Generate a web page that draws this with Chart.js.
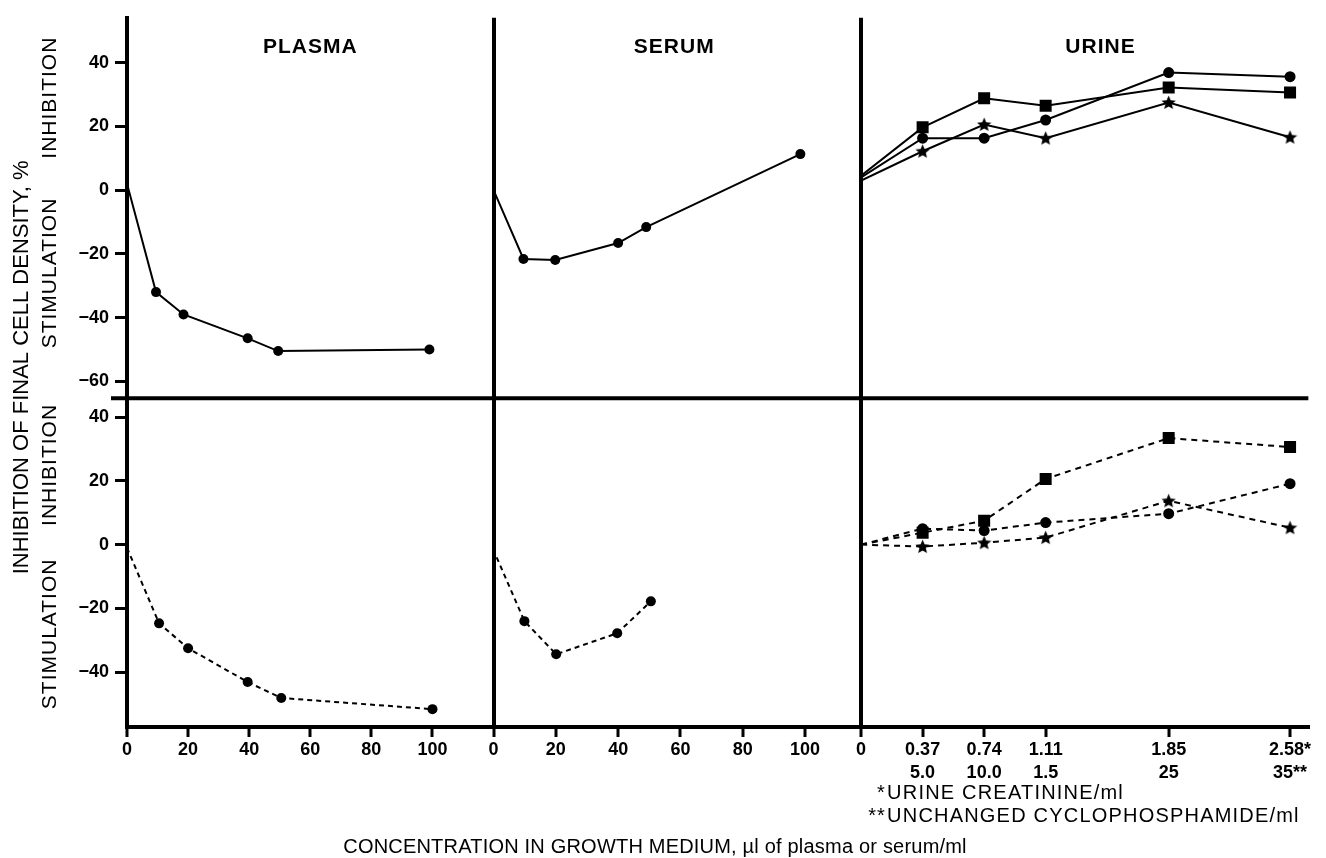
<!DOCTYPE html>
<html lang="en">
<head>
<meta charset="UTF-8">
<title>Inhibition of final cell density</title>
<script src="https://cdn.jsdelivr.net/npm/chart.js@4.4.0/dist/chart.umd.min.js"></script>
<style>
  html, body { margin: 0; padding: 0; background: #fff; }
  #wrap { position: relative; width: 1326px; height: 858px; }
</style>
</head>
<body>
<div id="wrap"><canvas id="cellChart" width="1326" height="858"></canvas></div>
<script>
// plasma / serum curves (x = ul per ml, y = % inhibition)
const plasmaTopX = [0, 9.5, 18.5, 39.5, 49.5, 99];
const plasmaTopY = [2, -32, -39, -46.5, -50.5, -50];
const serumTopX = [0, 9.6, 19.8, 40, 49, 98.5];
const serumTopY = [0, -21.6, -21.9, -16.6, -11.6, 11.3];
const plasmaBottomX = [0, 10.5, 20, 39.5, 50.5, 100];
const plasmaBottomY = [-1, -24.7, -32.5, -43.1, -48.1, -51.6];
const serumBottomX = [1, 9.9, 20.1, 39.7, 50.5];
const serumBottomY = [-4, -24, -34.4, -27.8, -17.8];

// urine curves, x = urine creatinine per ml
const urineX = [0, 0.37, 0.74, 1.11, 1.85, 2.58];
const urineCircleTop = [4, 16.3, 16.3, 22, 36.9, 35.6];
const urineSquareTop = [4.5, 19.7, 28.8, 26.5, 32.2, 30.6];
const urineStarTop = [3, 12.2, 20.6, 16.3, 27.5, 16.6];
const urineCircleBottom = [0, 5, 4.4, 6.9, 9.7, 19.1];
const urineSquareBottom = [0, 3.75, 7.5, 20.6, 33.4, 30.6];
const urineStarBottom = [0, -0.6, 0.6, 2.2, 13.75, 5.3];

// ticks and labels
const concTicks = [0, 20, 40, 60, 80, 100];
const urineTicks = [0, 0.37, 0.74, 1.11, 1.85, 2.58];
const creatinineLabels = ['0', '0.37', '0.74', '1.11', '1.85', '2.58*'];
const cyclophosphamideLabels = ['', '5.0', '10.0', '1.5', '25', '35**'];
const topYTicks = [-60, -40, -20, 0, 20, 40];
const bottomYTicks = [-40, -20, 0, 20, 40];

const panelTitles = ['PLASMA', 'SERUM', 'URINE'];
const yTitle = 'INHIBITION OF FINAL CELL DENSITY, %';
const sideLabels = ['INHIBITION', 'STIMULATION'];
const xTitle = 'CONCENTRATION IN GROWTH MEDIUM, \u00b5l of plasma or serum/ml';
const footnoteMarks = ['*', '**'];
const footnoteTexts = ['URINE CREATININE/ml', 'UNCHANGED CYCLOPHOSPHAMIDE/ml'];

const FONT = '"Liberation Sans", Arial, Helvetica, sans-serif';

// filled five point star marker
function makeStar(size) {
  const c = document.createElement('canvas');
  c.width = size; c.height = size;
  const g = c.getContext('2d');
  const r = size / 2, inner = r * 0.45;
  g.beginPath();
  for (let i = 0; i < 10; i++) {
    const rad = i % 2 ? inner : r;
    const a = -Math.PI / 2 + i * Math.PI / 5;
    g.lineTo(r + rad * Math.cos(a), r + 0.5 + rad * Math.sin(a));
  }
  g.closePath();
  g.fillStyle = '#000';
  g.fill();
  return c;
}
const starImg = makeStar(15);

function series(xs, ys, xAxis, yAxis, style, radius, dash) {
  return {
    data: xs.map((x, i) => ({x: x, y: ys[i]})),
    xAxisID: xAxis,
    yAxisID: yAxis,
    borderColor: '#000',
    borderWidth: 2,
    borderDash: dash || [],
    pointStyle: style,
    pointRadius: c => c.dataIndex === 0 ? 0 : radius,
    pointBackgroundColor: '#000',
    pointBorderWidth: 0,
    tension: 0,
    fill: false
  };
}

const solid = null;
const dashed = [5, 4];

const datasets = [
  series(plasmaTopX, plasmaTopY, 'xP', 'yT', 'circle', 5, solid),
  series(serumTopX, serumTopY, 'xS', 'yT', 'circle', 5, solid),
  series(urineX, urineCircleTop, 'xU', 'yT', 'circle', 5.5, solid),
  series(urineX, urineSquareTop, 'xU', 'yT', 'rect', 8.5, solid),
  series(urineX, urineStarTop, 'xU', 'yT', starImg, 7, solid),
  series(plasmaBottomX, plasmaBottomY, 'xP', 'yB', 'circle', 5, dashed),
  series(serumBottomX, serumBottomY, 'xS', 'yB', 'circle', 5, dashed),
  series(urineX, urineCircleBottom, 'xU', 'yB', 'circle', 5.5, [6, 5]),
  series(urineX, urineSquareBottom, 'xU', 'yB', 'rect', 8.5, [6, 5]),
  series(urineX, urineStarBottom, 'xU', 'yB', starImg, 7, [6, 5])
];

const tickFont = {family: FONT, size: 18, weight: 'bold', lineHeight: 1.3};

function xAxis(max, ticks, weight, callback) {
  return {
    type: 'linear',
    position: 'bottom',
    stack: 'conc',
    stackWeight: weight,
    min: 0,
    max: max,
    afterBuildTicks: s => { s.ticks = ticks.map(v => ({value: v})); },
    afterFit: s => { s.height = 62; },
    border: {display: true, color: '#000', width: 4},
    grid: {
      drawOnChartArea: true,
      color: c => c.tick && c.tick.value === 0 ? '#000' : 'rgba(0,0,0,0)',
      lineWidth: c => c.tick && c.tick.value === 0 ? 4 : 0,
      drawTicks: true,
      tickColor: '#000',
      tickWidth: 3,
      tickLength: 10
    },
    ticks: {
      color: '#000',
      font: tickFont,
      padding: 1,
      autoSkip: false,
      maxRotation: 0,
      callback: callback
    }
  };
}

function yAxis(min, max, ticks, weight, order) {
  return {
    type: 'linear',
    position: 'left',
    stack: 'pct',
    stackWeight: weight,
    weight: order,
    min: min,
    max: max,
    afterBuildTicks: s => { s.ticks = ticks.map(v => ({value: v})); },
    afterFit: s => { s.width = 127; },
    border: {display: true, color: '#000', width: 4},
    grid: {drawOnChartArea: false, drawTicks: true, tickColor: '#000', tickWidth: 3, tickLength: 12},
    ticks: {
      color: '#000',
      font: tickFont,
      padding: 6,
      callback: v => v < 0 ? '\u2212' + Math.abs(v) : String(v)
    }
  };
}

function rotatedText(ctx, text, x, y, spacing) {
  ctx.save();
  ctx.translate(x, y);
  ctx.rotate(-Math.PI / 2);
  ctx.letterSpacing = spacing || '0px';
  ctx.fillText(text, 0, 0);
  ctx.restore();
}

const panelDecor = {
  id: 'panelDecor',
  afterDraw(chart) {
    const {ctx, chartArea, scales} = chart;
    const yT = scales.yT, yB = scales.yB;
    const xP = scales.xP, xS = scales.xS, xU = scales.xU;
    ctx.save();
    ctx.fillStyle = '#000';
    ctx.strokeStyle = '#000';

    // divider between the two rows
    ctx.lineWidth = 4;
    ctx.beginPath();
    ctx.moveTo(chartArea.left - 16, yT.bottom);
    ctx.lineTo(chartArea.right, yT.bottom);
    ctx.stroke();

    // panel titles
    ctx.font = 'bold 21px ' + FONT;
    ctx.letterSpacing = '1px';
    ctx.textAlign = 'center';
    ctx.textBaseline = 'middle';
    const titleX = [xP.getPixelForValue(60), xS.getPixelForValue(58), xU.getPixelForValue(1.44)];
    panelTitles.forEach((t, i) => ctx.fillText(t, titleX[i], chartArea.top + 30));

    // y axis titles
    ctx.font = '22px ' + FONT;
    rotatedText(ctx, yTitle, 22, (chartArea.top + chartArea.bottom) / 2 - 5, '0px');
    ctx.font = '21px ' + FONT;
    rotatedText(ctx, sideLabels[0], 50, yT.getPixelForValue(29), '1px');
    rotatedText(ctx, sideLabels[1], 50, yT.getPixelForValue(-26), '1px');
    rotatedText(ctx, sideLabels[0], 50, yB.getPixelForValue(25), '1px');
    rotatedText(ctx, sideLabels[1], 50, yB.getPixelForValue(-28), '1px');

    // footnotes under the urine axis
    ctx.font = '20px ' + FONT;
    ctx.letterSpacing = '1.2px';
    const noteX = xU.left + 26;
    footnoteTexts.forEach((t, i) => {
      const y = chartArea.bottom + 66 + i * 23;
      ctx.textAlign = 'right';
      ctx.fillText(footnoteMarks[i], noteX - 1, y);
      ctx.textAlign = 'left';
      ctx.fillText(t, noteX, y);
    });

    // x axis title
    ctx.letterSpacing = '0.2px';
    ctx.textAlign = 'center';
    ctx.fillText(xTitle, 655, chartArea.bottom + 120);
    ctx.restore();
  }
};

const ctx = document.getElementById('cellChart').getContext('2d');
const cellChart = new Chart(ctx, {
  type: 'line',
  data: {datasets: datasets},
  options: {
    responsive: false,
    animation: false,
    events: [],
    layout: {padding: {left: 0, right: 13, top: 15, bottom: 69}},
    plugins: {legend: {display: false}, tooltip: {enabled: false}},
    scales: {
      xP: xAxis(120, concTicks, 368),
      xS: xAxis(118, concTicks, 369),
      xU: xAxis(2.69, urineTicks, 449, (v, i) => cyclophosphamideLabels[i] ? [creatinineLabels[i], cyclophosphamideLabels[i]] : creatinineLabels[i]),
      yT: yAxis(-65.3, 54.1, topYTicks, 382, 1),
      yB: yAxis(-57.2, 45.9, bottomYTicks, 330, 0)
    }
  },
  plugins: [panelDecor]
});
</script>
</body>
</html>
